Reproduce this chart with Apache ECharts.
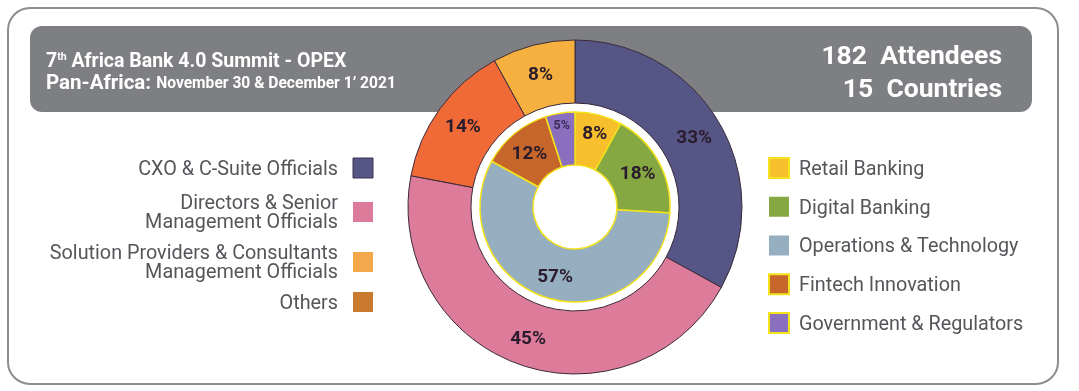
<!DOCTYPE html>
<html>
<head>
<meta charset="utf-8">
<script src="https://cdn.jsdelivr.net/npm/echarts@6/dist/echarts.min.js"></script>
<style>
html,body{margin:0;padding:0;background:#fff;}
#c{width:1079px;height:391px;}
</style>
</head>
<body>
<div id="c"></div>
<script>
// ---- data ----
const outerCategories = ['CXO & C-Suite Officials', 'Directors & Senior Management Officials', 'Others', 'Solution Providers & Consultants Management Officials'];
const outerValues = [33, 45, 14, 8];
const innerCategories = ['Retail Banking', 'Digital Banking', 'Operations & Technology', 'Fintech Innovation', 'Government & Regulators'];
const innerValues = [8, 18, 57, 12, 5];
const leftLegendLabels = ['CXO & C-Suite Officials', 'Directors & Senior\nManagement Officials', 'Solution Providers & Consultants\nManagement Officials', 'Others'];
const rightLegendLabels = innerCategories;
const titleLine1 = ['7', 'th', ' Africa Bank 4.0 Summit - OPEX'];
const titleLine2 = ['Pan-Africa: ', 'November 30 & December 1\u2019 2021'];
const statsLines = ['182  Attendees', '15  Countries'];

// ---- styles ----
const outerColors = ['#555586', '#dc7b9a', '#f06a37', '#f6b03f'];
const innerColors = ['#f6bf2b', '#85a843', '#95afc0', '#c6662b', '#8a6fbe'];
const leftLegendColors = ['#555586', '#dc7b9a', '#f2a84b', '#c97a2f'];
const rightLegendColors = innerColors;
const rightLegendBorder = [true, false, false, true, true];
const leftLegendY = [168, 212, 262, 302];
const FONT = 'Roboto, "Liberation Sans", sans-serif';
const textGrey = '#55565a';
const labelDark = '#2a1c2c';
const TY = 2; // optical baseline shift

const chart = echarts.init(document.getElementById('c'), null, {renderer: 'canvas'});

const graphics = [];
// outer frame
graphics.push({type: 'rect', z: 0, shape: {x: 8, y: 8, width: 1050, height: 376, r: 22},
  style: {fill: '#fff', stroke: '#8d8d8d', lineWidth: 2}});
// banner
graphics.push({type: 'rect', z: 0, shape: {x: 30, y: 26, width: 1002, height: 86, r: 12},
  style: {fill: '#7d7f82'}});
// title
graphics.push({type: 'text', z: 1, x: 46, y: 60 + TY, style: {
  text: '{a|' + titleLine1[0] + '}{s|' + titleLine1[1] + '}{a|' + titleLine1[2] + '}',
  verticalAlign: 'middle', fill: '#fff',
  rich: {
    a: {fontFamily: FONT, fontWeight: 'bold', fontSize: 19.5, fill: '#fff', lineHeight: 22},
    s: {fontFamily: FONT, fontWeight: 'bold', fontSize: 10.5, fill: '#fff', lineHeight: 22, padding: [0, 0, 9, 0]}
  }}});
graphics.push({type: 'text', z: 1, x: 46, y: 82 + TY, style: {
  text: '{a|' + titleLine2[0] + '}{b|' + titleLine2[1] + '}',
  verticalAlign: 'middle', fill: '#fff',
  rich: {
    a: {fontFamily: FONT, fontWeight: 'bold', fontSize: 20.5, fill: '#fff', lineHeight: 22},
    b: {fontFamily: FONT, fontWeight: 'bold', fontSize: 15.6, fill: '#fff', lineHeight: 22}
  }}});
statsLines.forEach((t, i) => {
  graphics.push({type: 'text', z: 1, x: 1002, y: 55 + TY + i * 33, style: {
    text: t, align: 'right', verticalAlign: 'middle', fill: '#fff',
    font: 'bold 26.5px ' + FONT}});
});
// left legend
leftLegendLabels.forEach((t, i) => {
  const cy = leftLegendY[i];
  graphics.push({type: 'text', z: 1, x: 338, y: cy + TY, style: {
    text: t, align: 'right', verticalAlign: 'middle', fill: textGrey,
    fontFamily: FONT, fontSize: 19.8, lineHeight: 19}});
  graphics.push({type: 'rect', z: 1, shape: {x: 353, y: cy - 10, width: 20, height: 20},
    style: {fill: leftLegendColors[i], stroke: i === 0 ? '#3a3550' : null, lineWidth: 1}});
});
// right legend
rightLegendLabels.forEach((t, i) => {
  const cy = 168 + i * 38.75;
  graphics.push({type: 'rect', z: 1, shape: {x: 769, y: cy - 10, width: 20, height: 20},
    style: {fill: rightLegendColors[i], stroke: rightLegendBorder[i] ? '#f3e21c' : null, lineWidth: 2}});
  graphics.push({type: 'text', z: 1, x: 799, y: cy + TY, style: {
    text: t, align: 'left', verticalAlign: 'middle', fill: textGrey,
    fontFamily: FONT, fontSize: 19.8}});
});

const center = [575, 207];
const option = {
  animation: false,
  backgroundColor: '#fff',
  graphic: {elements: graphics},
  series: [
    {
      type: 'pie', name: 'gap', z: 3, silent: true, center, radius: [0, 104],
      label: {show: false}, labelLine: {show: false},
      data: [{value: 1, itemStyle: {color: '#fff'}}]
    },
    {
      type: 'pie', name: 'Attendee Profile', z: 4, center, radius: [104, 167],
      startAngle: 90, clockwise: true, silent: true,
      itemStyle: {borderColor: '#3b2a3b', borderWidth: 1},
      label: {show: true, position: 'inside', formatter: '{c}%', offset: [0, TY],
        fontFamily: FONT, fontWeight: 'bold', fontSize: 19, color: labelDark},
      labelLine: {show: false},
      data: outerValues.map((v, i) => ({name: outerCategories[i], value: v, itemStyle: {color: outerColors[i]}}))
    },
    {
      type: 'pie', name: 'Industry', z: 5, center, radius: [42, 95],
      startAngle: 90, clockwise: true, silent: true,
      itemStyle: {borderColor: '#f3e21c', borderWidth: 1.5},
      label: {show: true, position: 'inside', formatter: '{c}%', offset: [0, TY],
        fontFamily: FONT, fontWeight: 'bold', fontSize: 19, color: labelDark},
      labelLine: {show: false},
      data: innerValues.map((v, i) => {
        const d = {name: innerCategories[i], value: v, itemStyle: {color: innerColors[i]}};
        if (v <= 5) d.label = {fontSize: 12.5, color: '#3b2a5a', offset: [-2, -11]};
        if (i === 0) d.label = {offset: [2, -3]};
        return d;
      })
    }
  ]
};
chart.setOption(option);
</script>
</body>
</html>
